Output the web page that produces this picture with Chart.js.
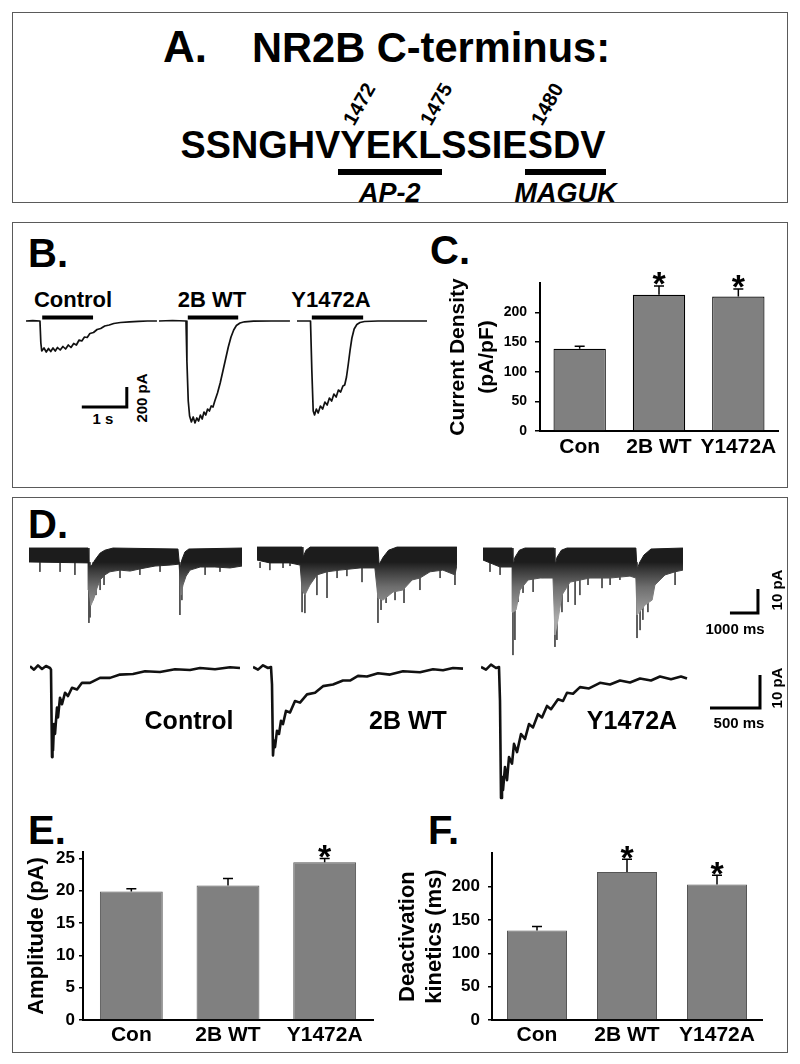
<!DOCTYPE html>
<html>
<head>
<meta charset="utf-8">
<script src="https://cdn.jsdelivr.net/npm/chart.js@4.4.1/dist/chart.umd.min.js"></script>
<style>
html,body{margin:0;padding:0;background:#fff;}
body{width:800px;height:1064px;position:relative;overflow:hidden;font-family:'Liberation Sans',Arial,sans-serif;}
.box{position:absolute;border:1.5px solid #5a5a5a;box-sizing:border-box;}
.t{position:absolute;white-space:nowrap;line-height:1;color:#000;font-family:'Liberation Sans',Arial,sans-serif;}
.ul{position:absolute;background:#000;}
canvas{position:absolute;}
</style>
</head>
<body>
<div class="box" style="left:12px;top:12px;width:776px;height:191px"></div>
<div class="box" style="left:12px;top:222px;width:776px;height:266px"></div>
<div class="box" style="left:12px;top:497px;width:776px;height:556px"></div>
<script>
// ================= DATA =================
const categories = ['Con', '2B WT', 'Y1472A'];

// C. current density (pA/pF)
const densityValues = [139, 230, 227];
const densityErrors = [4, 15, 13];
const densitySignificant = [false, true, true];
const densityTicks = [0, 50, 100, 150, 200];

// E. amplitude (pA)
const amplitudeValues = [19.9, 20.8, 24.4];
const amplitudeErrors = [0.4, 1.1, 0.6];
const amplitudeSignificant = [false, false, true];
const amplitudeTicks = [0, 5, 10, 15, 20, 25];

// F. deactivation kinetics (ms)
const deactValues = [134, 222, 203];
const deactErrors = [6, 19, 14];
const deactSignificant = [false, true, true];
const deactTicks = [0, 50, 100, 150, 200];

// A. sequence
const sequenceParts = ['SSNGHV', 'Y', 'EK', 'L', 'SSIE', 'S', 'D', 'V'];
const residueNumbers = [[1, '1472'], [3, '1475'], [5, '1480']];
const motifs = [[1, 3, 'AP-2'], [5, 7, 'MAGUK']];

// B. whole-cell currents [time s, current pA]
const wcControl = [[0,0],[0.15,4],[0.31,0],[0.33,-220],[0.35,-300],[0.4,-270],[0.45,-310],[0.5,-275],[0.55,-305],[0.6,-270],[0.65,-300],[0.7,-265],[0.76,-290],[0.82,-255],[0.88,-280],[0.94,-240],[1.0,-265],[1.06,-225],[1.12,-240],[1.18,-190],[1.24,-200],[1.3,-160],[1.36,-165],[1.42,-125],[1.5,-115],[1.58,-85],[1.66,-75],[1.75,-50],[1.85,-40],[1.95,-25],[2.1,-15],[2.3,-8],[2.5,-3],[2.7,0],[2.91,0]];
const wcWT = [[0,0],[0.3,5],[0.6,0],[0.62,-400],[0.65,-800],[0.68,-950],[0.72,-1010],[0.76,-960],[0.8,-1020],[0.84,-970],[0.88,-1000],[0.92,-940],[0.96,-980],[1.0,-910],[1.04,-940],[1.08,-880],[1.12,-900],[1.16,-850],[1.2,-860],[1.24,-800],[1.3,-720],[1.36,-620],[1.42,-500],[1.48,-380],[1.54,-260],[1.6,-160],[1.66,-90],[1.72,-45],[1.8,-20],[1.9,-8],[2.1,-2],[2.5,0],[2.91,0]];
const wcY1472A = [[0,0],[0.3,0],[0.33,-500],[0.36,-900],[0.39,-940],[0.43,-880],[0.47,-920],[0.52,-850],[0.57,-880],[0.62,-810],[0.67,-840],[0.72,-770],[0.77,-800],[0.82,-730],[0.87,-760],[0.92,-690],[0.97,-710],[1.02,-650],[1.06,-640],[1.1,-560],[1.14,-430],[1.18,-290],[1.22,-170],[1.27,-80],[1.33,-35],[1.4,-15],[1.5,-5],[1.8,0],[2.89,0]];
const wcPulses = [[0.36, 1.49], [0.64, 1.76], [0.33, 1.47]];
const scaleB = [1, 200];            // 1 s, 200 pA

// D. top row records: envelopes & spikes [time s, current pA]
const mcControlUpper = [[0,2.9],[2.11,2.9],[2.14,-5],[2.25,-4.2],[2.36,-2],[2.54,0.8],[2.71,2],[3.0,2.9],[5.32,2.5],[5.39,-6],[5.46,-2],[5.57,1.3],[5.71,2.5],[7.61,2.9]];
const mcControlLower = [[0,-2.9],[2.11,-3.3],[2.14,-14.6],[2.21,-21],[2.32,-18],[2.43,-13.8],[2.54,-10.4],[2.71,-8.3],[2.89,-7],[3.25,-6.3],[3.61,-6.7],[3.96,-5.8],[4.5,-4.6],[5.04,-4.2],[5.36,-3.8],[5.43,-16.7],[5.5,-12.5],[5.61,-8.8],[5.75,-6.3],[6.11,-5],[6.64,-5],[7.18,-5.4],[7.61,-4.6]];
const mcControlSpikes = [[0.39,-7],[1.11,-7],[1.64,-8.3],[2.14,-28.3],[2.18,-26],[2.29,-18.8],[2.39,-16.7],[2.54,-14.6],[2.68,-12.5],[3.25,-9.6],[3.96,-8.3],[4.68,-7],[5.39,-25],[5.46,-18.8],[6.29,-8.3],[6.82,-7]];
const mcWTUpper = [[0,3.3],[1.61,3.3],[1.64,-1],[1.75,2],[1.9,3.3],[4.32,3.3],[4.36,-4],[4.5,-1],[4.7,2],[5.0,3.3],[7.14,3.3]];
const mcWTLower = [[0,-2.1],[0.46,-3.3],[1.18,-3.3],[1.54,-4.2],[1.61,-14.6],[1.71,-16.7],[1.89,-12.5],[2.14,-8.3],[2.5,-7],[2.96,-6.3],[3.68,-5.4],[4.21,-5.4],[4.32,-17.9],[4.5,-18.8],[4.86,-15.4],[5.21,-14.6],[5.54,-10.4],[5.82,-9.6],[6.18,-7],[6.64,-6.3],[7.07,-8.3],[7.14,-4.2]];
const mcWTSpikes = [[0.11,-5.4],[0.46,-6.3],[0.93,-5.4],[1.18,-4.6],[1.61,-23.8],[1.71,-24.2],[2.14,-16.7],[2.5,-17.9],[2.86,-9.6],[3.21,-8.8],[3.75,-11.3],[4.32,-28.3],[4.43,-22.9],[4.61,-20],[4.93,-18.8],[5.25,-20],[5.82,-14.6],[6.54,-9.6],[7.07,-12.5]];
const mcYUpper = [[0,2.9],[1.04,2.9],[1.07,-5],[1.14,-1],[1.3,2],[1.5,2.9],[2.54,2.9],[2.57,-5],[2.64,-1],[2.8,2],[3.0,2.9],[5.46,2.9],[5.5,-6],[5.6,-3],[5.75,0],[6.0,2.5],[7.14,2.9]];
const mcYLower = [[0,-2.1],[0.61,-5],[1.04,-5],[1.07,-23.8],[1.18,-22.9],[1.32,-14.6],[1.61,-10.4],[2.04,-9.6],[2.5,-9.6],[2.57,-33.3],[2.68,-27],[2.82,-16.7],[3.11,-11.3],[3.82,-9.6],[4.54,-9.6],[5.25,-8.8],[5.46,-9.6],[5.5,-25],[5.79,-20.8],[6.04,-18.8],[6.14,-12.5],[6.5,-8.3],[6.86,-7],[7.14,-6.3]];
const mcYSpikes = [[0.25,-7],[0.61,-8.3],[1.07,-41.7],[1.14,-35.4],[1.25,-19.6],[1.43,-15.8],[1.79,-15.4],[2.14,-9.6],[2.57,-38.3],[2.64,-35.4],[2.82,-23.8],[3.04,-19.6],[3.29,-20.8],[3.46,-16.7],[3.75,-12.5],[4.25,-13.8],[4.54,-12.5],[4.89,-10.4],[5.5,-34.6],[5.61,-31.3],[5.71,-27],[5.89,-23.8],[6.86,-12.5]];
const scaleDTop = [1, 10];          // 1000 ms, 10 pA

// D. averaged events, bottom row [time s, current pA]
const evControl = [[0,0.5],[0.04,-0.5],[0.08,0.8],[0.12,-0.3],[0.16,0.6],[0.2,0],[0.21,-0.5],[0.22,-27],[0.225,-22],[0.23,-25],[0.24,-17],[0.25,-20],[0.27,-12],[0.28,-15],[0.3,-9],[0.32,-11],[0.35,-7.5],[0.38,-8.5],[0.42,-6],[0.47,-6.5],[0.52,-4.5],[0.6,-4.5],[0.7,-3],[0.8,-3],[0.9,-2],[1.03,-1.8],[1.15,-1],[1.3,-1.2],[1.45,-0.4],[1.6,-0.6],[1.7,0],[1.85,-0.4],[2.0,0.2],[2.1,0]];
const evWT = [[0,0.3],[0.05,-0.5],[0.1,0.8],[0.15,0],[0.18,0.3],[0.19,-5],[0.2,-26.5],[0.21,-22],[0.22,-24],[0.24,-19],[0.26,-20],[0.28,-16],[0.3,-17],[0.33,-13],[0.37,-13.5],[0.42,-10],[0.47,-10.5],[0.54,-8],[0.62,-7.5],[0.7,-5.5],[0.8,-5],[0.9,-3.8],[0.97,-3.8],[1.05,-2.4],[1.14,-2.6],[1.25,-1.6],[1.37,-2],[1.5,-1],[1.67,-1.3],[1.8,-0.4],[1.9,-0.7],[2.0,0],[2.1,-0.2]];
const evY1472A = [[0,0.3],[0.05,-0.5],[0.1,1],[0.15,0],[0.18,0.3],[0.19,-10],[0.2,-39.4],[0.21,-33],[0.22,-37],[0.24,-30],[0.26,-34],[0.28,-27],[0.31,-29],[0.33,-23],[0.36,-25.5],[0.4,-20],[0.44,-21.5],[0.48,-17],[0.52,-18],[0.57,-14],[0.61,-15],[0.66,-11.5],[0.7,-12.5],[0.77,-9.5],[0.82,-10],[0.86,-7.5],[0.92,-7.8],[0.99,-5.8],[1.08,-6.2],[1.19,-4.5],[1.29,-5],[1.39,-3.8],[1.49,-4.4],[1.59,-3.2],[1.7,-3.8],[1.79,-2.6],[1.9,-3.4],[2.0,-2.6],[2.06,-3.2]];
const scaleDBottom = [0.5, 10];     // 500 ms, 10 pA

// ================= HELPERS =================
const FONT = "'Liberation Sans', Arial, sans-serif";
const NARROW = "'Liberation Sans Narrow', 'Liberation Sans', Arial, sans-serif";
Chart.defaults.font.family = FONT;
Chart.defaults.color = '#000';

function P(a) { return a.map(([x, y]) => ({x, y})); }

function addCanvas(left, top, w, h) {
  const c = document.createElement('canvas');
  c.width = w; c.height = h;
  Object.assign(c.style, {left: left + 'px', top: top + 'px', width: w + 'px', height: h + 'px'});
  document.body.appendChild(c);
  return c;
}

function traceChart(left, top, w, h, xmax, ymin, ymax, datasets) {
  return new Chart(addCanvas(left, top, w, h), {
    type: 'line',
    data: {datasets},
    options: {
      responsive: false, animation: false, events: [],
      layout: {padding: 0},
      plugins: {legend: {display: false}, tooltip: {enabled: false}},
      elements: {point: {radius: 0}, line: {tension: 0}},
      scales: {
        x: {type: 'linear', display: false, min: 0, max: xmax},
        y: {type: 'linear', display: false, min: ymin, max: ymax}
      }
    }
  });
}
function lineDs(points, width, color) {
  return {data: P(points), borderColor: color || '#111', borderWidth: width, fill: false,
          pointRadius: 0, spanGaps: false, borderJoinStyle: 'round', clip: false};
}
// dark noise band that fades to grey in the slow tails of events
function bandShade(ctx) {
  const ch = ctx.chart;
  if (!ch.chartArea) return '#222';
  const y = ch.scales.y;
  const g = ch.ctx.createLinearGradient(0, y.getPixelForValue(-3), 0, y.getPixelForValue(-26));
  g.addColorStop(0, '#1c1c1c');
  g.addColorStop(0.15, '#3a3a3a');
  g.addColorStop(0.45, '#6e6e6e');
  g.addColorStop(1, '#a8a8a8');
  return g;
}
function bandDs(upper, lower) {
  return {data: P(upper).concat(P(lower.slice().reverse())), borderColor: bandShade,
          backgroundColor: bandShade, borderWidth: 1, fill: 'shape', pointRadius: 0};
}
function spikeDs(spikes, from) {
  const pts = [];
  spikes.forEach(([t, v]) => { pts.push({x: t, y: from}, {x: t, y: v}, {x: t, y: null}); });
  return {data: pts, borderColor: '#4a4a4a', borderWidth: 1, fill: false, pointRadius: 0, spanGaps: false};
}
function pulseDs(win, level) {
  return {data: [{x: win[0], y: level}, {x: win[1], y: level}], borderColor: '#000', borderWidth: 4,
          borderCapStyle: 'butt', fill: false, pointRadius: 0};
}
function scaleBarDs(origin, size) {
  const [x0, y0] = origin, [dx, dy] = size;
  return {data: [{x: x0, y: y0}, {x: x0 + dx, y: y0}, {x: x0 + dx, y: y0 + dy}], borderColor: '#000',
          borderWidth: 3, borderJoinStyle: 'miter', borderCapStyle: 'butt', fill: false, pointRadius: 0, clip: false};
}

const errorBars = {
  id: 'errorBars',
  afterDatasetsDraw(chart, args, opts) {
    const ctx = chart.ctx, y = chart.scales.y;
    const meta = chart.getDatasetMeta(0);
    const vals = chart.data.datasets[0].data;
    ctx.save();
    meta.data.forEach((bar, i) => {
      const top = y.getPixelForValue(vals[i] + opts.errors[i]);
      ctx.strokeStyle = opts.color; ctx.lineWidth = 1.5;
      ctx.beginPath();
      ctx.moveTo(bar.x, bar.y); ctx.lineTo(bar.x, top);
      ctx.moveTo(bar.x - opts.cap, top); ctx.lineTo(bar.x + opts.cap, top);
      ctx.stroke();
      if (opts.marks[i]) {
        ctx.font = `bold ${opts.starSize}px ${FONT}`;
        ctx.fillStyle = '#000'; ctx.textAlign = 'center'; ctx.textBaseline = 'alphabetic';
        const m = ctx.measureText('*');
        const cy = top - opts.starGap;
        ctx.fillText('*', bar.x, cy + (m.actualBoundingBoxAscent - m.actualBoundingBoxDescent) / 2);
      }
    });
    ctx.restore();
  }
};

function barChart(c, values, errors, marks, ticks, max, title) {
  return new Chart(addCanvas(c.left, c.top, c.w, c.h), {
    type: 'bar',
    data: {labels: categories, datasets: [{data: values, backgroundColor: '#808080', borderColor: c.barBorder,
           borderWidth: c.barBorderWidth, barPercentage: c.barPct, categoryPercentage: 1}]},
    options: {
      responsive: false, animation: false, events: [],
      layout: {padding: {top: c.padTop, right: c.padRight, left: 0, bottom: 0}},
      plugins: {legend: {display: false}, tooltip: {enabled: false},
                errorBars: {errors, marks, cap: 5, color: '#000', starSize: 34, starGap: 7}},
      scales: {
        x: {grid: {display: false, drawTicks: false}, border: {display: true, color: '#000', width: 2},
            ticks: {color: '#000', font: {family: FONT, weight: 'bold', size: c.xFont}, padding: c.xPad, maxRotation: 0, autoSkip: false},
            afterFit(s) { s.height = c.xH; }},
        y: {min: 0, max,
            grid: {drawOnChartArea: false, drawTicks: true, tickLength: c.tickLen, color: '#000', lineWidth: 1.5},
            border: {display: true, color: '#000', width: 2},
            ticks: {color: '#000', font: {family: c.yFamily, weight: 'bold', size: c.yFont}, padding: c.yPad},
            afterBuildTicks(s) { s.ticks = ticks.map(v => ({value: v})); },
            title: {display: true, text: title, color: '#000',
                    font: {family: FONT, weight: 'bold', size: c.titleSize, lineHeight: c.titleLH},
                    padding: {top: c.titlePad, bottom: 0}},
            afterFit(s) { s.width = c.yW; }}
      }
    },
    plugins: [errorBars]
  });
}

function text(s, x, y, size, o = {}) {
  const d = document.createElement('div');
  d.className = 't';
  d.textContent = s;
  d.style.fontSize = size + 'px';
  d.style.fontWeight = o.weight || 'bold';
  if (o.italic) d.style.fontStyle = 'italic';
  d.style.left = x + 'px'; d.style.top = y + 'px';
  document.body.appendChild(d);
  let sx = 1;
  if (o.fit) sx = o.fit / d.getBoundingClientRect().width;
  const tx = o.left ? '0' : '-50%';
  d.style.transformOrigin = o.left ? '0 50%' : '50% 50%';
  d.style.transform = `translate(${tx},-50%) rotate(${o.rot || 0}deg) scaleX(${sx})`;
  return d;
}

// ================= PANEL A =================
text('A.', 185, 47, 44, {fit: 44});
text('NR2B C-terminus:', 431, 48, 42, {fit: 358});
(function () {
  const d = document.createElement('div');
  d.className = 't';
  d.style.fontSize = '38px'; d.style.fontWeight = 'bold';
  d.style.left = '392.5px'; d.style.top = '145px';
  const spans = sequenceParts.map(p => { const s = document.createElement('span'); s.textContent = p; d.appendChild(s); return s; });
  document.body.appendChild(d);
  const sx = 425 / d.getBoundingClientRect().width;
  d.style.transform = `translate(-50%,-50%) scaleX(${sx})`;
  const r = spans.map(s => s.getBoundingClientRect());
  motifs.forEach(([a, b, label]) => {
    const x0 = r[a].left - 2, x1 = r[b].right + 1;
    const u = document.createElement('div');
    u.className = 'ul';
    Object.assign(u.style, {left: x0 + 'px', top: '169px', width: (x1 - x0) + 'px', height: '6px'});
    document.body.appendChild(u);
    text(label, (x0 + x1) / 2, 193, 27, {italic: true});
  });
  residueNumbers.forEach(([i, num]) => {
    const cx = (r[i].left + r[i].right) / 2 + 7;
    text(num, cx, 104, 20, {rot: -60});
  });
})();

// ================= PANEL B =================
text('B.', 28, 253, 40, {left: true});
text('Control', 73, 300, 22);
text('2B WT', 212, 300, 22);
text('Y1472A', 331, 300, 22);
text('1 s', 103, 418, 15);
text('200 pA', 141, 398, 15, {rot: -90});
// y: pixel 321 = 0 pA, 10 px per 100 pA ; x: 45 px per s
const B_TOP = 300, B_H = 130, B_MIN = -1090, B_MAX = 210, B_PULSE = 35;
traceChart(26, B_TOP, 131, B_H, 131 / 45, B_MIN, B_MAX,
  [lineDs(wcControl, 1.7), pulseDs(wcPulses[0], B_PULSE), scaleBarDs([1.24, -860], scaleB)]);
traceChart(159, B_TOP, 131, B_H, 131 / 45, B_MIN, B_MAX,
  [lineDs(wcWT, 1.7), pulseDs(wcPulses[1], B_PULSE)]);
traceChart(297, B_TOP, 130, B_H, 130 / 45, B_MIN, B_MAX,
  [lineDs(wcY1472A, 1.7), pulseDs(wcPulses[2], B_PULSE)]);

// ================= PANEL C =================
text('C.', 430, 250, 40, {left: true});
barChart({left: 435, top: 265, w: 355, h: 210, padTop: 18, padRight: 12, yW: 105, xH: 44,
          xFont: 21, xPad: 4, yFont: 14, yFamily: FONT, yPad: 8, tickLen: 5,
          titleSize: 21, titleLH: 1.38, titlePad: 8.5, barPct: 0.66, barBorder: '#000', barBorderWidth: 1.2},
  densityValues, densityErrors, densitySignificant, densityTicks, 250, ['Current Density', '(pA/pF)']);

// ================= PANEL D =================
text('D.', 28, 524, 40, {left: true});
// top row: baseline pixel 555 = 0 pA, 2.4 px per pA ; 28 px per s
const DT_TOP = 540, DT_H = 120, DT_MIN = -43.75, DT_MAX = 6.25, BAND = -3;
traceChart(29, DT_TOP, 213, DT_H, 213 / 28, DT_MIN, DT_MAX,
  [bandDs(mcControlUpper, mcControlLower), spikeDs(mcControlSpikes, BAND)]);
traceChart(257, DT_TOP, 200, DT_H, 200 / 28, DT_MIN, DT_MAX,
  [bandDs(mcWTUpper, mcWTLower), spikeDs(mcWTSpikes, BAND)]);
traceChart(483, DT_TOP, 200, DT_H, 200 / 28, DT_MIN, DT_MAX,
  [bandDs(mcYUpper, mcYLower), spikeDs(mcYSpikes, BAND)]);
traceChart(700, DT_TOP, 70, DT_H, 70 / 28, DT_MIN, DT_MAX, [scaleBarDs([1.07, -24.2], scaleDTop)]);
text('1000 ms', 735, 628, 15);
text('10 pA', 776, 590, 15, {rot: -90});
// bottom row: baseline pixel 668 = 0 pA, 3.3 px per pA ; 100 px per s
const DB_TOP = 650, DB_H = 155, DB_MIN = -41.52, DB_MAX = 5.45;
traceChart(30, DB_TOP, 211, DB_H, 2.11, DB_MIN, DB_MAX, [lineDs(evControl, 2.6)]);
traceChart(253, DB_TOP, 211, DB_H, 2.11, DB_MIN, DB_MAX, [lineDs(evWT, 2.6)]);
traceChart(481, DB_TOP, 208, DB_H, 2.08, DB_MIN, DB_MAX, [lineDs(evY1472A, 2.6)]);
traceChart(700, DB_TOP, 70, DB_H, 0.7, DB_MIN, DB_MAX, [scaleBarDs([0.1, -12.1], scaleDBottom)]);
text('500 ms', 739, 722, 15);
text('10 pA', 776, 688, 15, {rot: -90});
text('Control', 189, 720, 25);
text('2B WT', 408, 720, 25);
text('Y1472A', 632, 720, 25);

// ================= PANEL E =================
text('E.', 28, 830, 40, {left: true});
barChart({left: 12, top: 835, w: 375, h: 215, padTop: 17, padRight: 14, yW: 71, xH: 30,
          xFont: 21, xPad: 3, yFont: 17, yFamily: NARROW, yPad: 4, tickLen: 4,
          titleSize: 22, titleLH: 1.2, titlePad: 11.8, barPct: 0.65, barBorder: '#555', barBorderWidth: 1},
  amplitudeValues, amplitudeErrors, amplitudeSignificant, amplitudeTicks, 26, 'Amplitude (pA)');

// ================= PANEL F =================
text('F.', 428, 830, 40, {left: true});
barChart({left: 390, top: 835, w: 390, h: 215, padTop: 15, padRight: 18, yW: 102, xH: 30,
          xFont: 21, xPad: 3, yFont: 17, yFamily: NARROW, yPad: 8, tickLen: 4,
          titleSize: 22, titleLH: 1.227, titlePad: 4.5, barPct: 0.667, barBorder: '#555', barBorderWidth: 1},
  deactValues, deactErrors, deactSignificant, deactTicks, 250, ['Deactivation', 'kinetics (ms)']);
</script>
</body>
</html>
